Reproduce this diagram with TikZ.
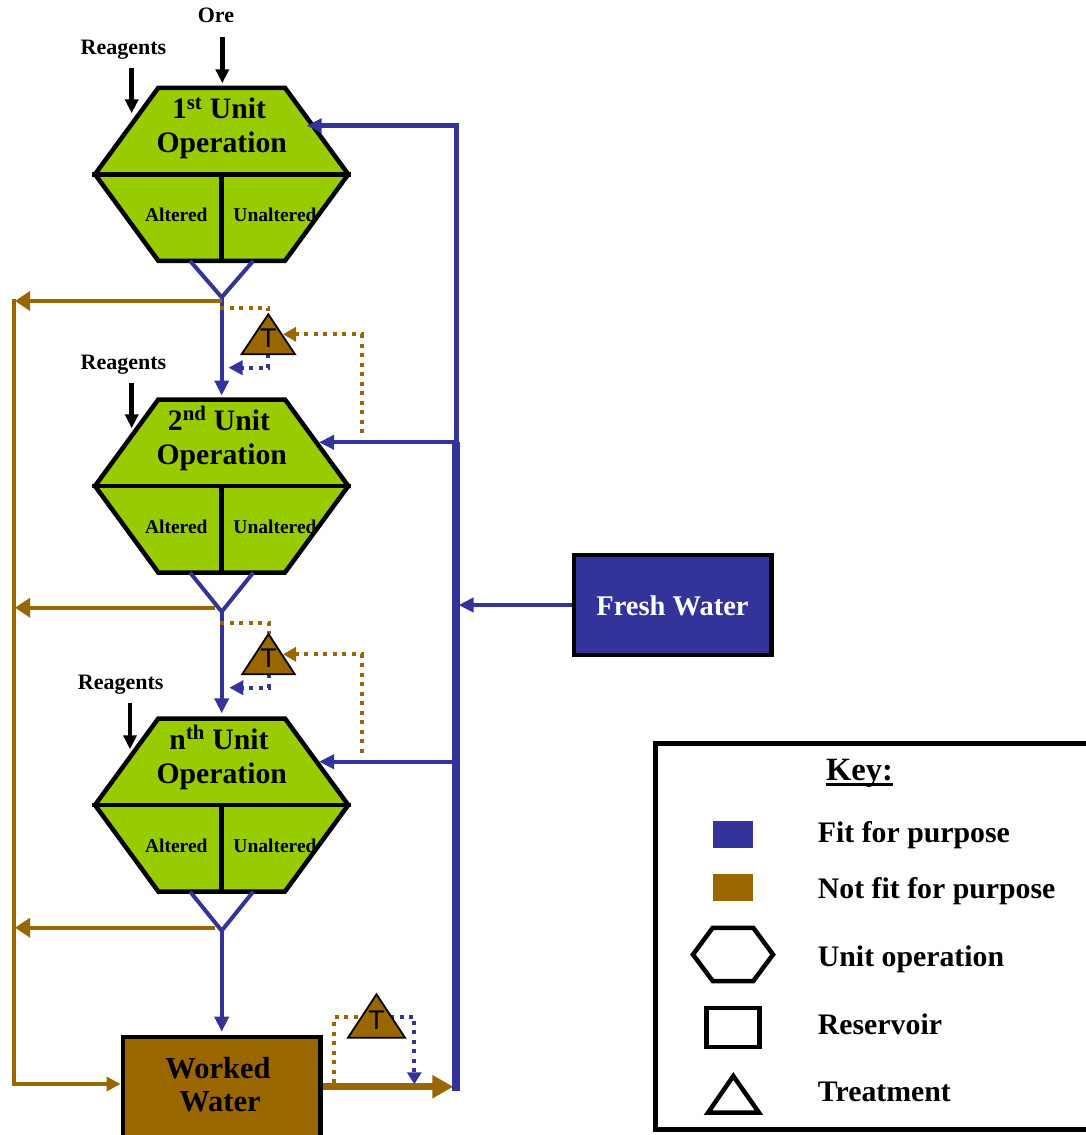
\documentclass[tikz,border=0pt]{standalone}
\usepackage{fontspec}
\setmainfont{Liberation Serif}
\newfontfamily\tfont{Liberation Sans}
\usetikzlibrary{arrows.meta,calc}
\definecolor{fblue}{HTML}{333399}
\definecolor{fbrown}{HTML}{996600}
\definecolor{fgreen}{HTML}{99CC00}
% #1 name, #2 y of middle line, #3 ordinal, #4 superscript
\newcommand\UnitOp[4]{%
  \filldraw[hexa] (158.3,#2-86.5) coordinate (#1-tl) -- (285,#2-86.5) coordinate (#1-tr)
     -- (348.3,#2) coordinate (#1-r) -- (285,#2+86.5) coordinate (#1-br)
     -- (158.3,#2+86.5) coordinate (#1-bl) -- (95,#2) coordinate (#1-l) -- cycle;
  \draw[divider] (92,#2) -- (351.3,#2);
  \draw[divider] (221.7,#2) coordinate (#1-c) -- (221.7,#2+86.5) coordinate (#1-b);
  \node[unittxt,anchor=base] (#1-t1) at (219,#2-56) {#3\textsuperscript{#4} Unit};
  \node[unittxt,anchor=base] (#1-t2) at (221.7,#2-21.6) {Operation};
  \node[subtxt,anchor=base] (#1-a) at (176.3,#2+47.4) {Altered};
  \node[subtxt,anchor=base] (#1-u) at (275,#2+47.4) {Unaltered};
}
% #1 name, #2 apex x, #3 apex y, #4 half width, #5 height
\newcommand\Treat[5]{%
  \filldraw[treat] (#2,#3) -- (#2+#4,#3+#5) -- (#2-#4,#3+#5) -- cycle;
  \node[ttxt] (#1-T) at (#2,#3+#5*0.6) {T};
}
\begin{document}
\begin{tikzpicture}[x=1pt,y=-1pt,
  hexa/.style={draw=black,line width=4.5pt,fill=fgreen,line join=miter},
  divider/.style={draw=black,line width=4.5pt},
  unittxt/.style={font=\fontsize{29.7}{34}\selectfont\bfseries,inner sep=0pt},
  subtxt/.style={font=\fontsize{19.5}{22}\selectfont\bfseries,inner sep=0pt},
  smalltxt/.style={font=\fontsize{22}{24}\selectfont\bfseries,inner sep=0pt,anchor=base},
  bigtxt/.style={font=\fontsize{30.5}{34}\selectfont\bfseries,inner sep=0pt,anchor=base},
  keytxt/.style={font=\fontsize{29.8}{32}\selectfont\bfseries,inner sep=0pt,anchor=base west},
  blk/.style={draw=black,line width=4.5pt,-{Triangle[length=14pt,width=13pt]}},
  bl/.style={draw=fblue,line width=4pt},
  blarr/.style={bl,-{Triangle[length=15pt,width=14pt]}},
  br/.style={draw=fbrown,line width=4pt},
  brarr/.style={br,-{Triangle[length=15pt,width=19pt]}},
  dotbr/.style={draw=fbrown,line width=4pt,dash pattern=on 4pt off 5.5pt},
  dotbl/.style={draw=fblue,line width=4pt,dash pattern=on 4pt off 5.5pt},
  treat/.style={draw=black,line width=1.8pt,fill=fbrown,line join=miter},
  ttxt/.style={font=\tfont\fontsize{27}{27}\selectfont,inner sep=0pt},
  reservoir/.style={draw=black,line width=4.5pt,inner sep=0pt},
]
\useasboundingbox (0,0) rectangle (1086,1135);
\clip (0,0) rectangle (1086,1135);

% ---------------- unit operations
\UnitOp{u1}{174.3}{1}{st}
\UnitOp{u2}{486}{2}{nd}
\UnitOp{un}{805}{n}{th}

% ---------------- inputs
\node[smalltxt] (ore) at (216,22.7) {Ore};
\node[smalltxt] (rg1) at (123.5,54.3) {Reagents};
\node[smalltxt] (rg2) at (123.5,369.3) {Reagents};
\node[smalltxt] (rgn) at (120.7,689.3) {Reagents};
\coordinate (oreS) at (222.3,37.3);   \coordinate (oreE) at (222.3,83.3);
\coordinate (rg1S) at (131.7,68.3);   \coordinate (rg1E) at (131.7,113.3);
\coordinate (rg2S) at (131.7,383.3);  \coordinate (rg2E) at (131.7,428.3);
\coordinate (rgnS) at (130,703.3);    \coordinate (rgnE) at (130,749.3);
\draw[blk] (oreS) -- (oreE);
\draw[blk] (rg1S) -- (rg1E);
\draw[blk] (rg2S) -- (rg2E);
\draw[blk] (rgnS) -- (rgnE);

% ---------------- reservoirs
\node[reservoir,fill=fblue,minimum width=197.5pt,minimum height=100pt] (fw) at (672.5,605) {};
\node[font=\fontsize{28.5}{32}\selectfont\bfseries,text=white,inner sep=0pt,anchor=base] (fwt) at (672.5,615) {Fresh Water};
\node[reservoir,fill=fbrown,minimum width=197.7pt,minimum height=106pt,anchor=north] (ww) at (221.7,1034.7) {};
\node[bigtxt] (wwt1) at (218,1078) {Worked};
\node[bigtxt] (wwt2) at (220,1111.7) {Water};

% ---------------- junctions
\coordinate (j1) at (221.7,297.3);
\coordinate (j2) at (221.7,611.7);
\coordinate (jn) at (221.7,930.7);

% funnels
\draw[bl,line join=miter] (190,260.8) -- (j1) -- (253.3,260.8);
\draw[bl,line join=miter] (190,572.5) -- (j2) -- (253.3,572.5);
\draw[bl,line join=miter] (190,891.5) -- (jn) -- (253.3,891.5);

% fit-for-purpose onward flow
\draw[blarr] (j1) -- (221.7,395.5);
\draw[blarr] (j2) -- (221.7,713.3);
\draw[blarr] (jn) -- (221.7,1031.7);

% not-fit-for-purpose flow to worked water
\coordinate (bl1) at (15,301);
\coordinate (bl2) at (15,607.7);
\coordinate (bln) at (15,927.7);
\draw[brarr] (221.7,301) -- (bl1);
\draw[brarr] (215,607.7) -- (bl2);
\draw[brarr] (215,927.7) -- (bln);
\coordinate (wwin) at (120.5,1084);
\draw[br,-{Triangle[length=14pt,width=14pt]}] (14,299) -- (14,1084) -- (wwin);

% ---------------- treatment loops (dotted, under triangles)
\draw[dotbr] (220,307.7) -- (268.3,307.7) -- (268.3,314.3);
\draw[dotbr,-{Triangle[length=13pt,width=14pt]}] (361.7,433) -- (361.7,334.3) -- (283,334.3);
\draw[dotbl,-{Triangle[length=14pt,width=14pt]}] (268.3,354.3) -- (268.3,367.7) -- (228.5,367.7);

\draw[dotbr] (220,622.7) -- (268.5,622.7) -- (268.5,634);
\draw[dotbr,-{Triangle[length=13pt,width=14pt]}] (361.7,752.7) -- (361.7,654.3) -- (283,654.3);
\draw[dotbl,-{Triangle[length=14pt,width=14pt]}] (268.5,674.3) -- (268.5,687.7) -- (229.3,687.7);

\draw[dotbr] (334.3,1083) -- (334.3,1016.7) -- (362,1016.7);
\draw[dotbl,-{Triangle[length=12pt,width=14pt]}] (390,1016.7) -- (414.3,1016.7) -- (414.3,1084.3);

\Treat{t1}{268.3}{314.3}{26.7}{40}
\Treat{t2}{268.5}{634}{26.3}{40.3}
\Treat{t3}{376.5}{994.3}{28.5}{43.4}

% ---------------- worked water out
\draw[draw=fbrown,line width=7.5pt,-{Triangle[length=21pt,width=22pt]}] (ww.east|-0,1086.7) -- (453.3,1086.7);

% ---------------- fresh water distribution
\draw[draw=fblue,line width=4.5pt,line join=miter,-{Triangle[length=15pt,width=14pt]}]
  (456.5,442.3) -- (456.5,125.7) -- (306.7,125.7);
\draw[draw=fblue,line width=8pt] (455.5,442.3) -- (455.5,1091);
\draw[blarr] (455.5,442.3) -- (319,442.3);
\draw[blarr] (455.5,761.7) -- (319,761.7);
\draw[blarr] (fw.west) -- (458.5,605);

% ---------------- key
\node[reservoir,minimum width=442pt,minimum height=385.7pt,anchor=north west] (keybox) at (653,741.3) {};
\node[font=\fontsize{32.5}{36}\selectfont\bfseries,inner sep=0pt,anchor=base west] (key) at (826,780) {Key:};
\draw[line width=2.7pt] ($(key.base west)+(0,4.5)$) -- ($(key.base east)+(0,4.5)$);
\fill[fblue] (712.7,821) rectangle (752.7,847.7);
\fill[fbrown] (712.7,874) rectangle (752.7,900.7);
\draw[line width=4.5pt,line join=miter] (712.7,927.8) -- (753.3,927.8) -- (773,954.5) -- (753.3,981) -- (712.7,981) -- (693,954.5) -- cycle;
\draw[line width=4.5pt] (706.7,1008) rectangle (759.3,1047);
\draw[line width=4.5pt,line join=miter] (733.3,1076) -- (759,1112.7) -- (708,1112.7) -- cycle;
\node[keytxt] (k1) at (817.7,842.7) {Fit for purpose};
\node[keytxt] (k2) at (817.7,898.3) {Not fit for purpose};
\node[keytxt] (k3) at (817.7,966) {Unit operation};
\node[keytxt] (k4) at (817.7,1034) {Reservoir};
\node[keytxt] (k5) at (817.7,1101) {Treatment};
\end{tikzpicture}
\end{document}
